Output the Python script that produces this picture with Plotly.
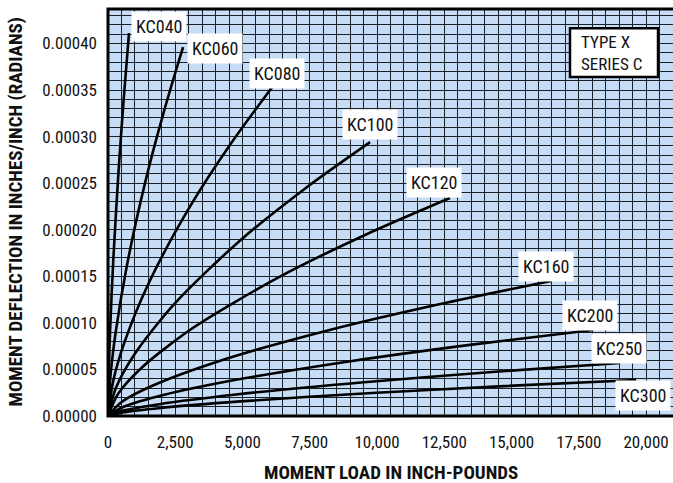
import plotly.graph_objects as go

# ---- data ----
series_names = ["KC040", "KC060", "KC080", "KC100", "KC120", "KC160", "KC200", "KC250", "KC300"]

kc040_x = [0, 23, 78, 195, 390, 585, 780]
kc040_y = [0, 0.421e-4, 0.920e-4, 1.669e-4, 2.619e-4, 3.409e-4, 4.11e-4]
kc060_x = [0, 84, 279, 698, 1395, 2093, 2790]
kc060_y = [0, 0.406e-4, 0.887e-4, 1.608e-4, 2.524e-4, 3.284e-4, 3.96e-4]
kc080_x = [0, 183, 610, 1525, 3050, 4575, 6100]
kc080_y = [0, 0.361e-4, 0.790e-4, 1.434e-4, 2.250e-4, 2.928e-4, 3.53e-4]
kc100_x = [0, 292, 974, 2435, 4870, 7305, 9740]
kc100_y = [0, 0.301e-4, 0.658e-4, 1.194e-4, 1.874e-4, 2.438e-4, 2.94e-4]
kc120_x = [0, 381, 1271, 3178, 6355, 9533, 12710]
kc120_y = [0, 0.240e-4, 0.524e-4, 0.950e-4, 1.491e-4, 1.941e-4, 2.34e-4]
kc160_x = [0, 494, 1647, 4118, 8235, 12353, 16470]
kc160_y = [0, 0.148e-4, 0.325e-4, 0.589e-4, 0.924e-4, 1.203e-4, 1.45e-4]
kc200_x = [0, 541, 1803, 4508, 9015, 13523, 18030]
kc200_y = [0, 0.0945e-4, 0.207e-4, 0.375e-4, 0.588e-4, 0.766e-4, 0.923e-4]
kc250_x = [0, 571, 1903, 4758, 9515, 14273, 19030]
kc250_y = [0, 0.0583e-4, 0.127e-4, 0.231e-4, 0.363e-4, 0.472e-4, 0.569e-4]
kc300_x = [0, 589, 1963, 4908, 9815, 14723, 19630]
kc300_y = [0, 0.0396e-4, 0.0867e-4, 0.157e-4, 0.247e-4, 0.321e-4, 0.387e-4]

label_x = [1896, 3977, 6281, 9738, 12117, 16280, 17915, 18993, 19885]
label_y = [4.177e-4, 3.95e-4, 3.68e-4, 3.135e-4, 2.512e-4, 1.60e-4, 1.074e-4, 0.730e-4, 0.225e-4]

x_tick_vals = [0, 2500, 5000, 7500, 10000, 12500, 15000, 17500, 20000]
x_tick_text = ["0", "2,500", "5,000", "7,500", "10,000", "12,500", "15,000", "17,500", "20,000"]
y_tick_vals = [0, 0.00005, 0.0001, 0.00015, 0.0002, 0.00025, 0.0003, 0.00035, 0.0004]
y_tick_text = ["0.00000", "0.00005", "0.00010", "0.00015", "0.00020", "0.00025", "0.00030", "0.00035", "0.00040"]

curves_x = [kc040_x, kc060_x, kc080_x, kc100_x, kc120_x, kc160_x, kc200_x, kc250_x, kc300_x]
curves_y = [kc040_y, kc060_y, kc080_y, kc100_y, kc120_y, kc160_y, kc200_y, kc250_y, kc300_y]

FONT = "Liberation Sans Narrow, Arial Narrow, Roboto Condensed, sans-serif"

fig = go.Figure()
for name, xs, ys in zip(series_names, curves_x, curves_y):
    fig.add_trace(go.Scatter(x=xs, y=ys, mode="lines", name=name,
                             line=dict(color="black", width=2.6, shape="spline", smoothing=0.8),
                             showlegend=False, hoverinfo="skip"))

for name, lx, ly in zip(series_names, label_x, label_y):
    fig.add_annotation(x=lx, y=ly, xref="x", yref="y", text=name, showarrow=False,
                       bgcolor="white", borderpad=4,
                       font=dict(family=FONT, size=18, color="#111"))

grid_col = "#1a2028"
fig.update_xaxes(range=[0, 21000], tickvals=x_tick_vals, ticktext=x_tick_text,
                 showgrid=True, gridcolor=grid_col, gridwidth=1.2,
                 minor=dict(dtick=500, showgrid=True, gridcolor=grid_col, gridwidth=1.2, tick0=0),
                 zeroline=False, showline=False, ticks="", ticklabelstandoff=14,
                 tickfont=dict(family=FONT, size=17, color="#111"), fixedrange=True)
fig.update_yaxes(range=[0, 0.000437], tickvals=y_tick_vals, ticktext=y_tick_text,
                 showgrid=True, gridcolor=grid_col, gridwidth=1.2,
                 minor=dict(dtick=0.00001, showgrid=True, gridcolor=grid_col, gridwidth=1.2, tick0=0),
                 zeroline=False, showline=False, ticks="", ticklabelstandoff=10,
                 tickfont=dict(family=FONT, size=17, color="#111"), fixedrange=True)

# plot border (left, top, bottom)
fig.add_shape(type="rect", xref="paper", yref="paper", x0=0, x1=1.01, y0=0, y1=1,
              line=dict(color="black", width=3), fillcolor="rgba(0,0,0,0)", layer="above")

# TYPE X / SERIES C box
fig.add_shape(type="rect", xref="paper", yref="paper", x0=0.8177, x1=0.9735, y0=0.833, y1=0.953,
              line=dict(color="black", width=2.5), fillcolor="white", layer="above")
fig.add_annotation(xref="paper", yref="paper", x=0.8336, y=0.892, xanchor="left", yanchor="middle",
                   text="TYPE X<br>SERIES C", align="left", showarrow=False,
                   font=dict(family=FONT, size=17, color="#111"))

# axis titles
fig.add_annotation(xref="paper", yref="paper", x=0.5, y=-0.1376, xanchor="center", yanchor="middle",
                   text="<b>MOMENT LOAD IN INCH-POUNDS</b>", showarrow=False,
                   font=dict(family=FONT, size=19, color="#111"))
fig.add_annotation(xref="paper", yref="paper", x=-0.1646, y=0.5, xanchor="center", yanchor="middle",
                   text="<b>MOMENT DEFLECTION IN INCHES/INCH (RADIANS)</b>", showarrow=False,
                   textangle=-90, font=dict(family=FONT, size=19, color="#111"))

fig.update_layout(width=673, height=483, margin=dict(l=108, r=0, t=9, b=67),
                  plot_bgcolor="#c7ddf5", paper_bgcolor="white")

fig.write_html("out.html", config={"displayModeBar": False},
               post_script="document.body.style.margin='0';document.body.style.overflow='hidden';")
